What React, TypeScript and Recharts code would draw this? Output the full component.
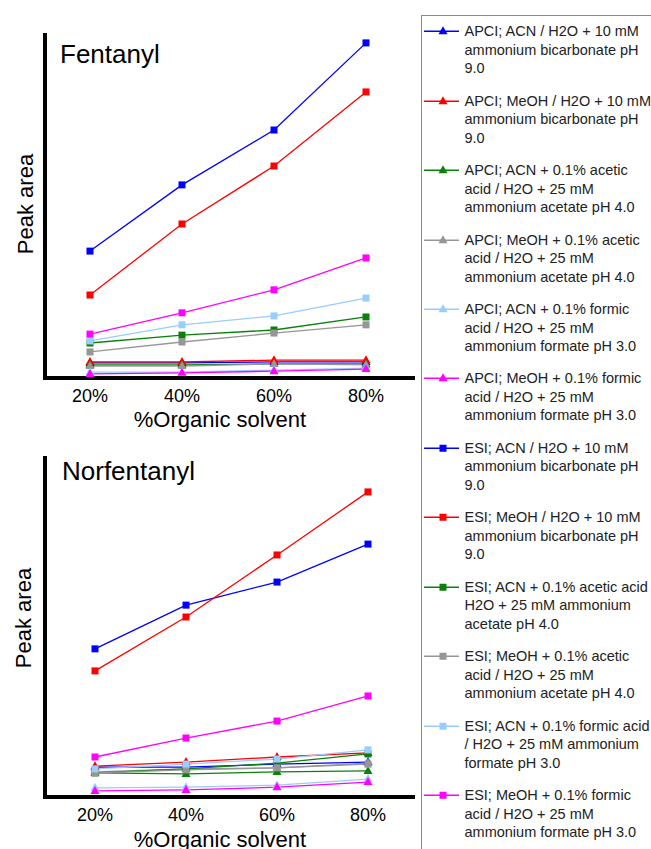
import { LineChart, Line, XAxis, YAxis, Label } from 'recharts';

const organicSolvent = ['20%', '40%', '60%', '80%'];

// peak areas in relative units (0-100 = full height of the y axis), order as in the legend
const fentanylApci = [
  [4.4, 4.4, 4.7, 4.7],
  [4.7, 4.7, 5.2, 5.2],
  [3.8, 3.8, 4.1, 4.1],
  [3.5, 3.5, 4.1, 3.8],
  [1.7, 1.7, 2.3, 2.9],
  [1.2, 1.5, 2.0, 2.6],
];
const fentanylEsi = [
  [37.0, 56.3, 72.3, 97.7],
  [24.2, 44.9, 61.8, 83.4],
  [10.2, 12.5, 14.0, 17.8],
  [7.6, 10.5, 13.1, 15.5],
  [10.8, 15.5, 18.1, 23.3],
  [12.8, 19.0, 25.7, 35.0],
];
const norfentanylApci = [
  [8.8, 8.8, 9.7, 10.3],
  [9.1, 10.3, 11.8, 13.0],
  [7.1, 6.8, 7.4, 7.7],
  [7.4, 8.3, 8.6, 10.0],
  [2.7, 2.9, 3.5, 5.3],
  [1.8, 2.1, 2.9, 4.4],
];
const norfentanylEsi = [
  [43.7, 56.6, 63.4, 74.6],
  [37.2, 53.1, 71.4, 90.0],
  [7.1, 8.3, 10.0, 12.7],
  [7.1, 8.0, 8.6, 9.7],
  [8.3, 9.7, 11.2, 13.9],
  [11.8, 17.4, 22.4, 29.8],
];

const apciLegend = [
  ['APCI; ACN / H2O + 10 mM', 'ammonium bicarbonate pH', '9.0'],
  ['APCI; MeOH / H2O + 10 mM', 'ammonium bicarbonate pH', '9.0'],
  ['APCI; ACN + 0.1% acetic', 'acid / H2O + 25 mM', 'ammonium acetate pH 4.0'],
  ['APCI; MeOH + 0.1% acetic', 'acid / H2O + 25 mM', 'ammonium acetate pH 4.0'],
  ['APCI; ACN + 0.1% formic', 'acid / H2O + 25 mM', 'ammonium formate pH 3.0'],
  ['APCI; MeOH + 0.1% formic', 'acid / H2O + 25 mM', 'ammonium formate pH 3.0'],
];
const esiLegend = [
  ['ESI; ACN / H2O + 10 mM', 'ammonium bicarbonate pH', '9.0'],
  ['ESI; MeOH / H2O + 10 mM', 'ammonium bicarbonate pH', '9.0'],
  ['ESI; ACN + 0.1% acetic acid /', 'H2O + 25 mM ammonium', 'acetate pH 4.0'],
  ['ESI; MeOH + 0.1% acetic', 'acid / H2O + 25 mM', 'ammonium acetate pH 4.0'],
  ['ESI; ACN + 0.1% formic acid', '/ H2O + 25 mM ammonium', 'formate pH 3.0'],
  ['ESI; MeOH + 0.1% formic', 'acid / H2O + 25 mM', 'ammonium formate pH 3.0'],
];

const COLORS = ['#0000ff', '#ff0000', '#0a820a', '#969696', '#99ccff', '#ff00ff'];
const FONT = '"Liberation Sans", Arial, sans-serif';
const AXIS = { stroke: '#000', strokeWidth: 4, strokeLinecap: 'square' as const };

function buildRows(apci: number[][], esi: number[][]) {
  return organicSolvent.map((solvent, i) => {
    const row: Record<string, string | number> = { solvent };
    apci.forEach((s, k) => (row[`apci${k}`] = s[i]));
    esi.forEach((s, k) => (row[`esi${k}`] = s[i]));
    return row;
  });
}

function Marker({ cx, cy, shape, color }: { cx: number; cy: number; shape: string; color: string }) {
  if (shape === 'square') {
    return <rect x={cx - 3.5} y={cy - 3.5} width={7} height={7} fill={color} />;
  }
  return <polygon points={`${cx},${cy - 5} ${cx + 4.5},${cy + 3} ${cx - 4.5},${cy + 3}`} fill={color} />;
}

const makeDot = (shape: string, color: string) => (props: any) => {
  const { cx, cy, index } = props;
  if (cx == null || cy == null) return <g key={`d-${index}`} />;
  return (
    <g key={`d-${index}`}>
      <Marker cx={cx} cy={cy} shape={shape} color={color} />
    </g>
  );
};

type PanelProps = {
  title: string;
  apci: number[][];
  esi: number[][];
  top: number;
  height: number;
  marginTop: number;
  xAxisHeight: number;
  padLeft: number;
  padRight: number;
  labelOffset: number;
  peakY: number;
  peakX: number;
  titleY: number;
  titleX: number;
};

function Panel(p: PanelProps) {
  const rows = buildRows(p.apci, p.esi);
  return (
    <div style={{ position: 'absolute', left: 0, top: p.top }}>
      <LineChart width={420} height={p.height} data={rows} margin={{ top: p.marginTop, right: 7, left: 0, bottom: 0 }}>
        <XAxis
          dataKey="solvent"
          interval={0}
          height={p.xAxisHeight}
          padding={{ left: p.padLeft, right: p.padRight }}
          tickLine={false}
          tickSize={0}
          tickMargin={11}
          tick={{ fontSize: 18, fill: '#000', fontFamily: FONT }}
          axisLine={AXIS}
        >
          <Label
            value="%Organic solvent"
            position="insideBottom"
            offset={p.labelOffset}
            dx={-9}
            fontSize={22}
            fill="#000"
            fontFamily={FONT}
          />
        </XAxis>
        <YAxis type="number" domain={[0, 100]} width={45} tick={false} tickLine={false} axisLine={AXIS}>
          <Label
            content={() => (
              <g>
                <text
                  transform={`translate(${p.peakX},${p.peakY}) rotate(-90)`}
                  textAnchor="middle"
                  fontSize={22}
                  fill="#000"
                  fontFamily={FONT}
                >
                  Peak area
                </text>
                <text x={p.titleX} y={p.titleY} fontSize={26} fill="#000" fontFamily={FONT}>
                  {p.title}
                </text>
              </g>
            )}
          />
        </YAxis>
        {p.apci.map((_, k) => (
          <Line
            key={`apci${k}`}
            type="linear"
            dataKey={`apci${k}`}
            stroke={COLORS[k]}
            strokeWidth={1.3}
            dot={makeDot('triangle', COLORS[k])}
            activeDot={false}
            isAnimationActive={false}
          />
        ))}
        {p.esi.map((_, k) => (
          <Line
            key={`esi${k}`}
            type="linear"
            dataKey={`esi${k}`}
            stroke={COLORS[k]}
            strokeWidth={1.3}
            dot={makeDot('square', COLORS[k])}
            activeDot={false}
            isAnimationActive={false}
          />
        ))}
      </LineChart>
    </div>
  );
}

function LegendBox() {
  const entries = [
    ...apciLegend.map((lines, k) => ({ lines, color: COLORS[k], shape: 'triangle' })),
    ...esiLegend.map((lines, k) => ({ lines, color: COLORS[k], shape: 'square' })),
  ];
  return (
    <div
      style={{
        position: 'absolute',
        left: 421,
        top: 15,
        width: 260,
        height: 860,
        border: '1.5px solid #8a8a8a',
        background: '#fff',
        boxSizing: 'border-box',
        paddingTop: 6.25,
        fontFamily: FONT,
        fontSize: 14.5,
        lineHeight: '18.5px',
        color: '#222',
      }}
    >
      {entries.map((e, i) => (
        <div key={i} style={{ position: 'relative', height: 69.45, whiteSpace: 'nowrap' }}>
          <svg width={36} height={18.5} style={{ position: 'absolute', left: 1.5, top: 0 }}>
            <line x1={0} x2={35} y1={9.25} y2={9.25} stroke={e.color} strokeWidth={1.3} />
            <Marker cx={19} cy={9.25} shape={e.shape} color={e.color} />
          </svg>
          <div style={{ marginLeft: 42.5 }}>
            {e.lines.map((l, j) => (
              <div key={j}>{l}</div>
            ))}
          </div>
        </div>
      ))}
    </div>
  );
}

export default function App() {
  return (
    <div style={{ position: 'relative', width: 651, height: 849, overflow: 'hidden', fontFamily: FONT, background: '#fff' }}>
      <style>{'body{margin:0;overflow:hidden}'}</style>
      <Panel
        title="Fentanyl"
        apci={fentanylApci}
        esi={fentanylEsi}
        top={0}
        height={435}
        marginTop={35}
        xAxisHeight={57}
        padLeft={45}
        padRight={47}
        labelOffset={8}
        peakX={33}
        peakY={204}
        titleX={60}
        titleY={63}
      />
      <Panel
        title="Norfentanyl"
        apci={norfentanylApci}
        esi={norfentanylEsi}
        top={420}
        height={429}
        marginTop={38}
        xAxisHeight={52}
        padLeft={50}
        padRight={45}
        labelOffset={2}
        peakX={31}
        peakY={198}
        titleX={62}
        titleY={60}
      />
      <LegendBox />
    </div>
  );
}
